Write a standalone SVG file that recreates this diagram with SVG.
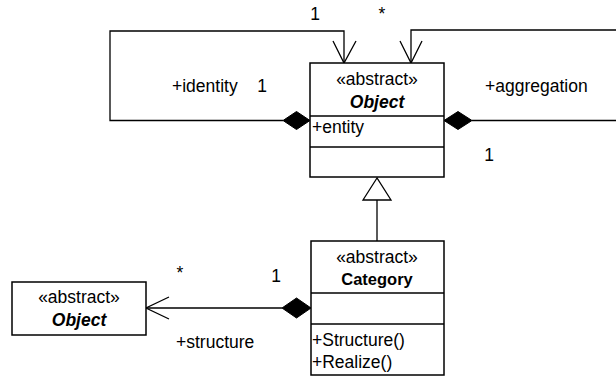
<svg xmlns="http://www.w3.org/2000/svg" width="616" height="377" viewBox="0 0 616 377">
  <style>
    text { font-family: "Liberation Sans", Arial, sans-serif; font-size: 17.5px; fill: #000; }
    .c { text-anchor: middle; }
    .bi { font-weight: bold; font-style: italic; }
    .b { font-weight: bold; font-size: 16.5px; }
    .box { fill: #fff; stroke: #000; stroke-width: 1.5; }
    .ln { fill: none; stroke: #000; stroke-width: 1.3; }
    .dia { fill: #000; stroke: #000; stroke-width: 1; }
  </style>

  <!-- connectors -->
  <g id="connectors">
    <!-- identity self-association -->
    <polyline class="ln" points="283,120.5 110,120.5 110,31 344,31 344,63"/>
    <polyline class="ln" points="333,41 344,63 356,41"/>
    <polygon class="dia" points="310,120.5 296.5,111.5 283,120.5 296.5,129.5"/>
    <!-- aggregation self-association -->
    <polyline class="ln" points="472,120.5 616,120.5"/>
    <polyline class="ln" points="616,30 411,30 411,63"/>
    <polyline class="ln" points="400,41 411,63 422,41"/>
    <polygon class="dia" points="444,120.5 458,111.5 472,120.5 458,129.5"/>
    <!-- generalization -->
    <line class="ln" x1="377" y1="200" x2="377" y2="241"/>
    <polygon class="ln" points="377,178 363,200 391,200" fill="#fff"/>
    <!-- structure composition -->
    <line class="ln" x1="146" y1="308" x2="282" y2="308"/>
    <polyline class="ln" points="169,297 146,308 169,319"/>
    <polygon class="dia" points="311,308 296.5,298 282,308 296.5,318"/>
  </g>

  <!-- connector labels -->
  <g id="labels">
    <text x="315" y="20" class="c">1</text>
    <text x="382" y="20" class="c">*</text>
    <text x="172" y="92">+identity</text>
    <text x="262" y="92" class="c">1</text>
    <text x="485" y="92">+aggregation</text>
    <text x="489" y="161" class="c">1</text>
    <text x="180" y="279" class="c">*</text>
    <text x="276" y="282" class="c">1</text>
    <text x="176" y="348">+structure</text>
  </g>

  <g id="object-main">
    <rect class="box" x="310" y="63" width="134" height="114"/>
    <line class="ln" x1="310" y1="116" x2="444" y2="116"/>
    <line class="ln" x1="310" y1="147" x2="444" y2="147"/>
    <text x="377" y="85" class="c">«abstract»</text>
    <text x="377" y="108" class="c bi">Object</text>
    <text x="312" y="133">+entity</text>
  </g>

  <g id="category">
    <rect class="box" x="311" y="241" width="133" height="134"/>
    <line class="ln" x1="311" y1="293" x2="444" y2="293"/>
    <line class="ln" x1="311" y1="324" x2="444" y2="324"/>
    <text x="377" y="263" class="c">«abstract»</text>
    <text x="377" y="285" class="c b">Category</text>
    <text x="312" y="346">+Structure()</text>
    <text x="312" y="368">+Realize()</text>
  </g>

  <g id="object-structure">
    <rect class="box" x="12" y="282" width="134" height="53"/>
    <text x="79" y="303" class="c">«abstract»</text>
    <text x="79" y="326" class="c bi">Object</text>
  </g>
</svg>
